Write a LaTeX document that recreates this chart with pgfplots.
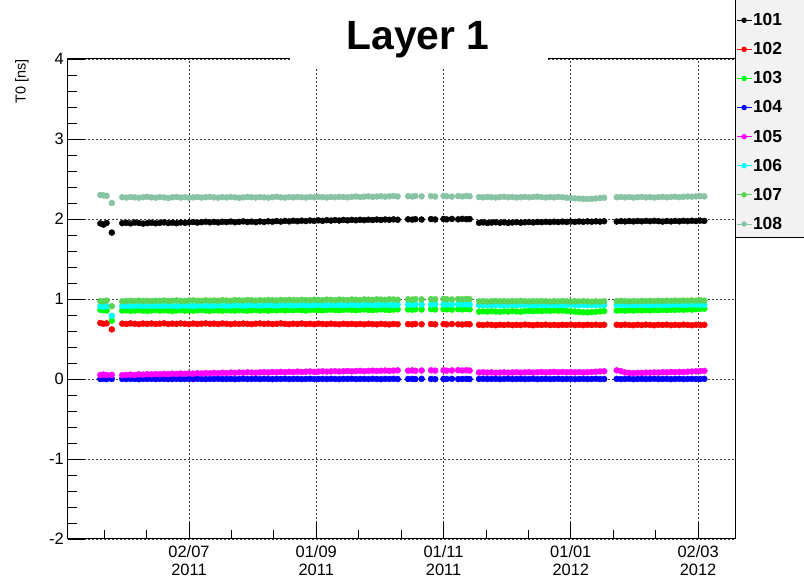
\documentclass[border=0pt]{standalone}
\usepackage{fontspec}
\setmainfont{Liberation Sans}
\usepackage{pgfplots}
\usepackage{pgfplotstable}
\pgfplotsset{compat=1.18}
\definecolor{c101}{RGB}{0,0,0}
\definecolor{c102}{RGB}{255,0,0}
\definecolor{c103}{RGB}{0,255,0}
\definecolor{c104}{RGB}{0,0,255}
\definecolor{c105}{RGB}{255,0,255}
\definecolor{c106}{RGB}{0,255,255}
\definecolor{c107}{RGB}{89,212,84}
\definecolor{c108}{RGB}{136,196,164}
\definecolor{legbg}{RGB}{242,242,242}
\pgfplotstableread{
d s1 s2 s3 s4 s5 s6 s7 s8
-42.5 1.945 0.700 0.865 0.000 0.050 0.910 0.975 2.300
-41 1.930 0.690 0.860 0.002 0.055 0.905 0.970 2.295
-39.5 1.950 0.695 0.855 -0.002 0.050 0.910 0.980 2.290
-37 1.830 0.620 0.730 0.000 0.052 0.790 0.910 2.200
-32 1.948 0.692 0.855 0.001 0.048 0.912 0.972 2.272
-30 1.952 0.688 0.858 -0.001 0.052 0.915 0.976 2.268
-28 1.945 0.695 0.852 0.002 0.055 0.910 0.978 2.275
-26 1.955 0.690 0.856 0.000 0.050 0.918 0.974 2.270
-24 1.950 0.686 0.860 -0.002 0.058 0.914 0.980 2.265
-22 1.942 0.693 0.854 0.001 0.054 0.912 0.975 2.272
-20 1.948 0.689 0.850 0.000 0.060 0.916 0.978 2.278
-18 1.953 0.694 0.857 0.002 0.057 0.913 0.973 2.270
-16 1.946 0.688 0.861 -0.001 0.062 0.917 0.979 2.266
-14 1.951 0.691 0.853 0.000 0.059 0.912 0.976 2.274
-12 1.957 0.696 0.858 0.001 0.064 0.915 0.981 2.269
-10 1.949 0.687 0.855 -0.002 0.061 0.918 0.975 2.262
-8 1.954 0.692 0.849 0.000 0.066 0.914 0.978 2.271
-6 1.947 0.689 0.856 0.002 0.063 0.911 0.982 2.276
-4 1.956 0.694 0.860 -0.001 0.068 0.916 0.977 2.268
-2 1.952 0.690 0.854 0.000 0.065 0.919 0.974 2.273
0 1.958 0.686 0.857 0.001 0.070 0.915 0.980 2.265
2 1.962 0.693 0.852 -0.001 0.067 0.913 0.983 2.270
4 1.955 0.688 0.858 0.002 0.072 0.917 0.978 2.274
6 1.960 0.691 0.862 0.000 0.069 0.920 0.976 2.268
8 1.966 0.695 0.855 -0.002 0.074 0.916 0.984 2.272
10 1.958 0.689 0.851 0.001 0.071 0.914 0.979 2.277
12 1.963 0.692 0.859 0.000 0.076 0.918 0.982 2.270
14 1.957 0.687 0.856 0.002 0.073 0.921 0.977 2.266
16 1.965 0.694 0.853 -0.001 0.078 0.917 0.985 2.273
18 1.961 0.690 0.860 0.000 0.075 0.915 0.981 2.269
20 1.968 0.685 0.857 0.001 0.080 0.919 0.978 2.275
22 1.959 0.692 0.854 -0.002 0.077 0.922 0.986 2.271
24 1.964 0.688 0.861 0.000 0.082 0.918 0.983 2.264
26 1.970 0.693 0.858 0.002 0.079 0.916 0.980 2.270
28 1.962 0.689 0.852 -0.001 0.084 0.920 0.987 2.276
30 1.967 0.686 0.859 0.000 0.081 0.923 0.984 2.272
32 1.960 0.691 0.863 0.001 0.078 0.919 0.979 2.268
34 1.969 0.694 0.856 -0.001 0.083 0.917 0.986 2.274
36 1.963 0.688 0.860 0.002 0.086 0.921 0.982 2.270
38 1.971 0.692 0.854 0.000 0.082 0.924 0.988 2.266
40 1.966 0.687 0.861 -0.002 0.087 0.920 0.985 2.273
42 1.974 0.690 0.858 0.001 0.084 0.918 0.981 2.278
44 1.968 0.695 0.864 0.000 0.089 0.922 0.988 2.271
46 1.976 0.689 0.857 0.002 0.085 0.925 0.984 2.267
48 1.970 0.686 0.862 -0.001 0.090 0.921 0.989 2.274
50 1.978 0.691 0.859 0.000 0.087 0.919 0.986 2.270
52 1.972 0.688 0.865 0.001 0.092 0.923 0.983 2.276
54 1.979 0.693 0.860 -0.002 0.088 0.926 0.990 2.272
56 1.974 0.687 0.856 0.000 0.091 0.922 0.987 2.268
58 1.981 0.690 0.863 0.002 0.094 0.920 0.984 2.275
60 1.976 0.685 0.866 -0.001 0.089 0.924 0.991 2.271
62 1.983 0.692 0.861 0.000 0.093 0.927 0.988 2.277
64 1.977 0.688 0.858 0.001 0.096 0.923 0.985 2.273
66 1.985 0.686 0.864 -0.001 0.092 0.921 0.992 2.269
68 1.980 0.691 0.867 0.002 0.095 0.925 0.989 2.276
70 1.986 0.687 0.862 0.000 0.098 0.928 0.986 2.272
72 1.981 0.684 0.859 -0.002 0.094 0.924 0.993 2.278
74 1.988 0.690 0.865 0.001 0.097 0.922 0.990 2.274
76 1.983 0.686 0.868 0.000 0.100 0.926 0.987 2.270
78 1.989 0.689 0.863 0.002 0.096 0.929 0.994 2.277
80 1.984 0.685 0.860 -0.001 0.099 0.925 0.991 2.281
82 1.990 0.688 0.866 0.000 0.102 0.923 0.988 2.275
84 1.986 0.684 0.869 0.001 0.098 0.927 0.995 2.279
86 1.991 0.690 0.864 -0.001 0.101 0.930 0.992 2.283
88 1.987 0.686 0.861 0.002 0.104 0.926 0.989 2.277
90 1.993 0.683 0.867 0.000 0.100 0.924 0.996 2.281
92 1.988 0.689 0.870 -0.002 0.103 0.928 0.993 2.285
94 1.994 0.685 0.865 0.001 0.106 0.931 0.990 2.279
96 1.990 0.682 0.862 0.000 0.102 0.927 0.997 2.283
98 1.995 0.688 0.868 0.002 0.105 0.925 0.994 2.287
100 1.991 0.684 0.871 -0.001 0.108 0.929 0.991 2.281
105 1.996 0.686 0.869 0.000 0.104 0.930 0.996 2.285
107 1.992 0.683 0.866 0.001 0.107 0.928 0.993 2.280
108.5 1.998 0.688 0.872 -0.001 0.103 0.932 0.998 2.288
111.5 1.993 0.684 0.868 0.002 0.106 0.929 0.995 2.283
116 1.999 0.687 0.873 0.000 0.109 0.931 0.999 2.286
118 1.994 0.683 0.869 -0.002 0.105 0.933 0.996 2.281
122 2.000 0.686 0.874 0.001 0.108 0.930 1.000 2.289
123.5 1.995 0.682 0.870 0.000 0.104 0.932 0.997 2.284
126 2.001 0.687 0.867 0.002 0.107 0.929 0.994 2.280
129 1.996 0.684 0.873 -0.001 0.110 0.933 0.999 2.286
131 2.002 0.681 0.869 0.000 0.106 0.931 0.996 2.282
133 1.997 0.686 0.875 0.001 0.109 0.934 1.001 2.288
134.5 2.000 0.683 0.871 -0.001 0.105 0.930 0.998 2.284
139 1.952 0.678 0.842 0.000 0.082 0.922 0.970 2.274
141 1.957 0.674 0.846 0.002 0.085 0.925 0.974 2.270
143 1.950 0.680 0.843 -0.001 0.080 0.921 0.968 2.276
145 1.955 0.676 0.848 0.000 0.083 0.924 0.972 2.272
147 1.959 0.672 0.844 0.001 0.078 0.927 0.975 2.268
149 1.953 0.678 0.841 -0.002 0.081 0.923 0.970 2.274
151 1.958 0.675 0.847 0.000 0.084 0.920 0.973 2.278
153 1.951 0.679 0.843 0.002 0.079 0.924 0.969 2.271
155 1.956 0.673 0.849 -0.001 0.082 0.926 0.974 2.275
157 1.960 0.677 0.845 0.000 0.085 0.922 0.971 2.269
159 1.954 0.674 0.842 0.001 0.080 0.925 0.976 2.273
161 1.959 0.680 0.848 -0.001 0.083 0.928 0.972 2.277
163 1.962 0.676 0.851 0.000 0.086 0.924 0.969 2.271
165 1.957 0.672 0.847 0.002 0.081 0.921 0.974 2.275
167 1.963 0.678 0.853 -0.002 0.084 0.925 0.971 2.279
169 1.960 0.675 0.849 0.000 0.087 0.927 0.975 2.273
171 1.965 0.679 0.855 0.001 0.083 0.923 0.972 2.269
173 1.961 0.674 0.851 -0.001 0.086 0.926 0.968 2.274
175 1.966 0.677 0.857 0.000 0.089 0.928 0.973 2.270
177 1.962 0.673 0.853 0.002 0.085 0.924 0.970 2.276
179 1.967 0.678 0.856 -0.001 0.088 0.922 0.975 2.272
181 1.963 0.675 0.850 0.000 0.084 0.926 0.971 2.266
183 1.968 0.679 0.846 0.001 0.087 0.929 0.968 2.262
185 1.964 0.674 0.842 -0.002 0.083 0.925 0.972 2.258
187 1.969 0.677 0.838 0.000 0.086 0.922 0.969 2.254
189 1.965 0.673 0.835 0.001 0.082 0.926 0.973 2.252
191 1.970 0.678 0.833 -0.001 0.085 0.923 0.970 2.250
193 1.966 0.675 0.836 0.000 0.088 0.927 0.966 2.253
195 1.971 0.679 0.840 0.002 0.091 0.924 0.971 2.257
197 1.967 0.674 0.845 -0.001 0.094 0.928 0.968 2.262
199 1.972 0.677 0.849 0.000 0.097 0.925 0.972 2.266
205 1.968 0.678 0.855 0.001 0.108 0.926 0.973 2.272
207 1.973 0.674 0.858 -0.001 0.098 0.929 0.977 2.276
209 1.969 0.679 0.854 0.000 0.082 0.925 0.974 2.270
211 1.974 0.675 0.859 0.002 0.076 0.928 0.970 2.274
213 1.970 0.672 0.856 -0.002 0.074 0.924 0.975 2.268
215 1.975 0.678 0.861 0.000 0.078 0.927 0.972 2.272
217 1.971 0.674 0.857 0.001 0.076 0.930 0.976 2.276
219 1.976 0.679 0.862 -0.001 0.080 0.926 0.973 2.270
221 1.972 0.676 0.858 0.000 0.079 0.923 0.977 2.274
223 1.977 0.672 0.863 0.002 0.083 0.927 0.974 2.268
225 1.973 0.678 0.860 -0.001 0.081 0.930 0.978 2.273
227 1.968 0.675 0.865 0.000 0.085 0.926 0.975 2.277
229 1.974 0.679 0.861 0.001 0.083 0.924 0.979 2.271
231 1.970 0.673 0.866 -0.002 0.087 0.928 0.976 2.275
233 1.976 0.677 0.863 0.000 0.085 0.931 0.980 2.279
235 1.971 0.674 0.868 0.002 0.089 0.927 0.977 2.273
237 1.977 0.679 0.865 -0.001 0.087 0.925 0.981 2.277
239 1.973 0.675 0.870 0.000 0.091 0.929 0.978 2.281
241 1.978 0.672 0.867 0.001 0.093 0.932 0.982 2.278
243 1.974 0.678 0.872 -0.001 0.096 0.928 0.979 2.282
245 1.979 0.674 0.876 0.000 0.099 0.930 0.983 2.285
247 1.976 0.677 0.879 0.002 0.102 0.927 0.980 2.283
}\data
\begin{document}
\begin{tikzpicture}[x=1bp,y=1bp]
\path[use as bounding box] (-68,-41) rectangle (736,539);
\filldraw[fill=legbg, draw=black, line width=1bp] (667,301) rectangle (840,560);
\begin{axis}[
  at={(0,0)}, anchor=south west,
  scale only axis, width=667bp, height=480bp,
  xmin=-58, xmax=261.7, ymin=-2, ymax=4,
  xtick={0,61,122,183,244},
  xticklabels={{02/07\\2011},{01/09\\2011},{01/11\\2011},{01/01\\2012},{02/03\\2012}},
  minor xtick={-40.667,-20.333,20.333,40.667,81.333,101.667,142.333,162.667,203.333,223.667},
  ytick={-2,-1,0,1,2,3,4},
  yticklabels={-2,-1,0,1,2,3,4},
  minor y tick num=4,
  tick pos=left, tick align=inside,
  major tick length=17bp, minor tick length=9bp,
  every tick/.style={black, line width=0.9bp},
  axis line style={black, line width=1bp},
  grid=major,
  major grid style={black!75, line width=0.8bp, dash pattern=on 2bp off 2bp},
  /pgf/number format/assume math mode=true,
  xticklabel style={font=\fontsize{16.5}{18}\selectfont, align=center, anchor=north, inner sep=0pt, yshift=-6bp},
  yticklabel style={font=\fontsize{16.5}{18}\selectfont, anchor=east, inner sep=0pt, xshift=-4bp},
  legend cell align=left,
  legend style={at={(axis description cs:1.0015,1.1114)}, anchor=north west, draw=none, fill=none,
    inner sep=0pt, row sep=0pt, column sep=0pt,
    font=\fontsize{17.5}{17.5}\bfseries\selectfont,
    nodes={inner xsep=1bp, inner ysep=0pt, minimum height=29.1bp}},
  legend image code/.code={\draw[mark repeat=2,mark phase=2,#1,sharp plot,mark size=2.3bp,line width=0.8bp] plot coordinates {(0bp,0bp) (7.5bp,0bp) (15bp,0bp)};},
]
\addplot[only marks, mark=*, color=c101, mark size=3bp] table[x=d,y=s1] {\data};
\addplot[only marks, mark=*, color=c102, mark size=3bp] table[x=d,y=s2] {\data};
\addplot[only marks, mark=*, color=c103, mark size=3bp] table[x=d,y=s3] {\data};
\addplot[only marks, mark=*, color=c104, mark size=3bp] table[x=d,y=s4] {\data};
\addplot[only marks, mark=*, color=c105, mark size=3bp] table[x=d,y=s5] {\data};
\addplot[only marks, mark=*, color=c106, mark size=3bp] table[x=d,y=s6] {\data};
\addplot[only marks, mark=*, color=c107, mark size=3bp] table[x=d,y=s7] {\data};
\addplot[only marks, mark=*, color=c108, mark size=3bp] table[x=d,y=s8] {\data};
\legend{101,102,103,104,105,106,107,108}
\end{axis}
\fill[white] (222,472) rectangle (480,536);
\node[anchor=base, inner sep=0pt, font=\fontsize{41}{41}\bfseries\selectfont] at (350,489) {Layer 1};
\node[rotate=90, anchor=east, inner sep=0pt, font=\fontsize{14.5}{14.5}\selectfont] at (-46,480) {T0 [ns]};
\end{tikzpicture}
\end{document}
